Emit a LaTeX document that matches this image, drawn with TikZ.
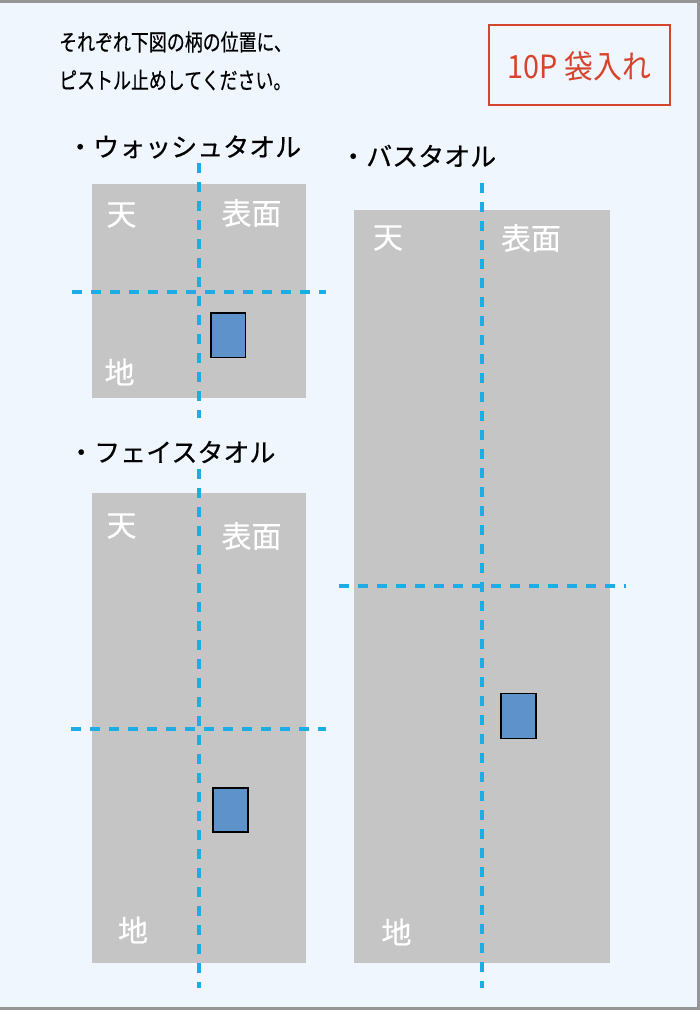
\documentclass[tikz,border=0pt]{standalone}
\usepackage{fontspec}
\usepackage{tikz}
\usetikzlibrary{calc}
\setmainfont{Noto Sans CJK JP}
\newfontfamily\narrowjp[FakeStretch=0.78,FakeBold=0.4]{Noto Sans CJK JP}
\newfontfamily\redjp[FakeStretch=0.9]{Noto Sans CJK JP}
\newfontfamily\mediumjp[FakeBold=0.5]{Noto Sans CJK JP}
\definecolor{pagebg}{RGB}{240,246,253}
\definecolor{framegray}{RGB}{150,150,150}
\definecolor{towelgray}{RGB}{197,197,197}
\definecolor{cutblue}{RGB}{30,172,228}
\definecolor{pinblue}{RGB}{94,146,203}
\definecolor{bagred}{RGB}{214,68,45}
\tikzset{
    towel/.style={fill=towelgray},
    guide/.style={cutblue, line width=4pt, dash pattern=on 10pt off 9pt},
    pin/.style={fill=pinblue, draw=black, line width=1.2pt},
    side/.style={white, font=\mediumjp\fontsize{30}{30}\selectfont, inner sep=0pt},
    heading/.style={anchor=west, inner sep=0pt, font=\mediumjp\fontsize{26}{26}\selectfont},
    notice/.style={anchor=west, inner sep=0pt, font=\narrowjp\fontsize{23}{23}\selectfont}
}
\begin{document}
\begin{tikzpicture}[x=1pt,y=-1pt]
        \useasboundingbox (0,0) rectangle (700,1010);
        \fill[pagebg] (0,0) rectangle (700,1010);
        \draw[framegray, line width=3pt] (0,1.5) -- (698.5,1.5) -- (698.5,1008.5) -- (0,1008.5);

        % instructions
        \draw (59,42) node[notice](line1){それぞれ下図の柄の位置に、};
        \draw (59,80) node[notice](line2){ピストル止めしてください。};
        \draw[bagred, line width=2.5pt] (489,25) rectangle (670,105);
        \draw (579.5,66) node[bagred, inner sep=0pt, font=\redjp\fontsize{32}{32}\selectfont](bag){10P 袋入れ};

        % wash towel
        \draw (67,147) node[heading](washname){・ウォッシュタオル};
        \fill[towel] (92,184) rectangle (306,398);
        \draw (121.5,215) node[side](washtop){天};
        \draw (251.5,213) node[side](washface){表面};
        \draw (119.5,372) node[side](washbottom){地};
        \coordinate (washv1) at (199,163);
        \coordinate (washv2) at (199,418);
        \coordinate (washh1) at (72,291.5);
        \coordinate (washh2) at (326,291.5);
        \draw[guide] (washv1) -- (washv2);
        \draw[guide] (washh1) -- (washh2);
        \draw[pin] (211,313) rectangle (245.5,357.5);

        % face towel
        \draw (68,452) node[heading](facename){・フェイスタオル};
        \fill[towel] (92,493) rectangle (306,963);
        \draw (121.5,526) node[side](facetop){天};
        \draw (251.5,536) node[side](faceface){表面};
        \draw (133,930) node[side](facebottom){地};
        \coordinate (facev1) at (199,469);
        \coordinate (facev2) at (199,988);
        \coordinate (faceh1) at (71,728.5);
        \coordinate (faceh2) at (326,728.5);
        \draw[guide] (facev1) -- (facev2);
        \draw[guide] (faceh1) -- (faceh2);
        \draw[pin] (213,788) rectangle (248,832);

        % bath towel
        \draw (340,156) node[heading](bathname){・バスタオル};
        \fill[towel] (353.5,209.5) rectangle (609.5,962.5);
        \draw (388,238) node[side](bathtop){天};
        \draw (531,238) node[side](bathface){表面};
        \draw (396.5,932) node[side](bathbottom){地};
        \coordinate (bathv1) at (481.5,183);
        \coordinate (bathv2) at (481.5,988);
        \coordinate (bathh1) at (339,585.5);
        \coordinate (bathh2) at (626,585.5);
        \draw[guide] (bathv1) -- (bathv2);
        \draw[guide] (bathh1) -- (bathh2);
        \draw[pin] (501,693.5) rectangle (536,738.5);
    \end{tikzpicture}
\end{document}
